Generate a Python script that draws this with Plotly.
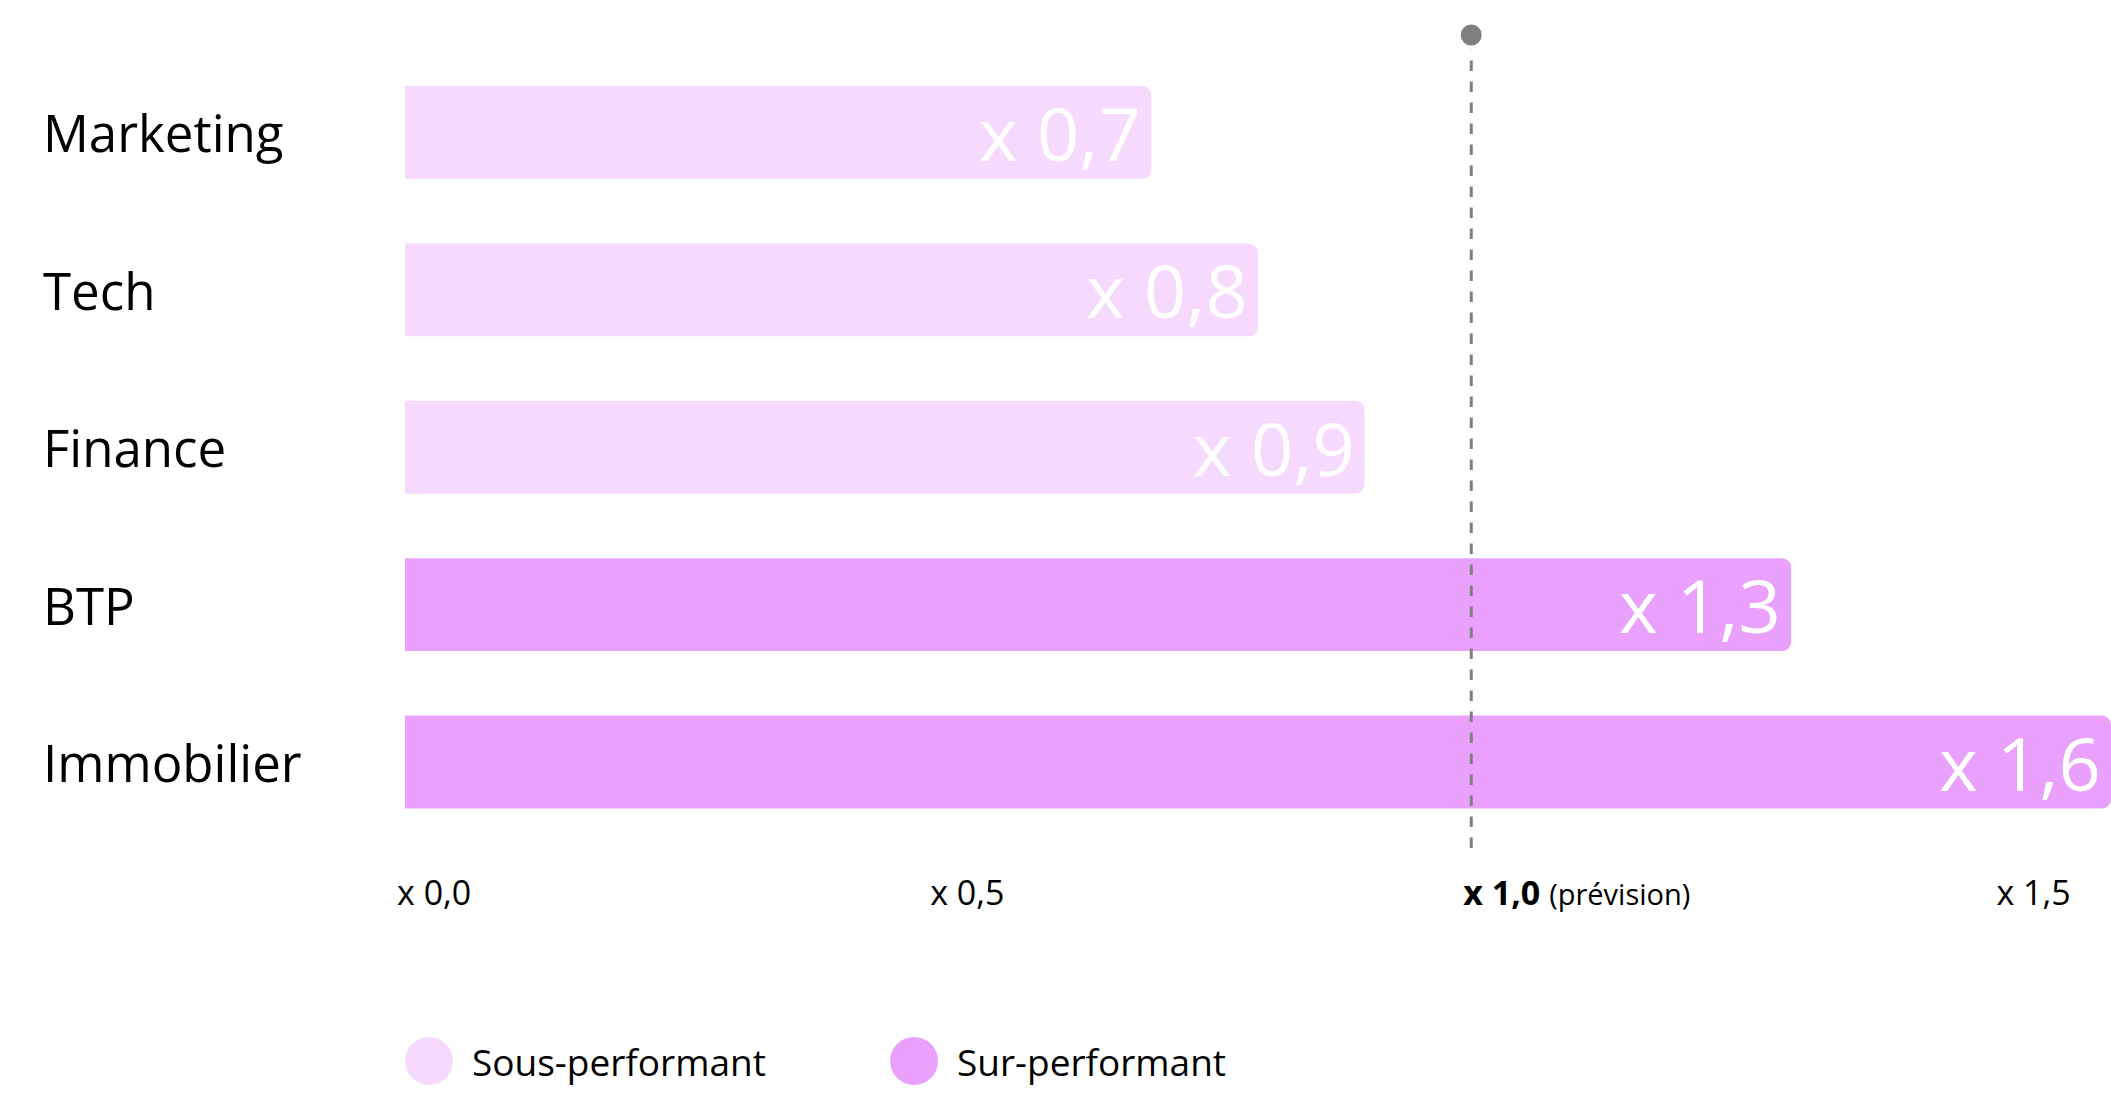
import plotly.graph_objects as go

# ---- data ----
categories = ["Marketing", "Tech", "Finance", "BTP", "Immobilier"]
values = [0.7, 0.8, 0.9, 1.3, 1.6]
groups = ["Sous-performant", "Sous-performant", "Sous-performant", "Sur-performant", "Sur-performant"]
tick_vals = [0.0, 0.5, 1.0, 1.5]
tick_text = ["x 0,0", "x 0,5", "<b>x 1,0</b> <span style='font-size:29px'>(prévision)</span>", "x 1,5"]
forecast = 1.0
legend_names = ["Sous-performant", "Sur-performant"]

colors = {"Sous-performant": "#f5dafd", "Sur-performant": "#eaa1fd"}
FONT = "Open Sans"

fig = go.Figure()
fig.add_trace(go.Bar(
    x=values, y=categories, orientation="h",
    marker=dict(color=[colors[g] for g in groups], line=dict(width=0), cornerradius=9),
    showlegend=False, hoverinfo="skip",
))

annotations = []
# value labels inside bar ends
for c, v in zip(categories, values):
    annotations.append(dict(
        x=v, y=c, xref="x", yref="y", xanchor="right", yanchor="middle",
        xshift=-8, text=f"x {v:.1f}".replace(".", ","), showarrow=False,
        font=dict(family=FONT, size=74, color="white"),
    ))
# category labels on the left
for c in categories:
    annotations.append(dict(
        x=-0.2134, y=c, xref="paper", yref="y", xanchor="left", yanchor="middle",
        text=c, showarrow=False, font=dict(family=FONT, size=51, color="black"),
    ))

shapes = [
    dict(type="line", xref="x", yref="paper", x0=forecast, x1=forecast, y0=0.0, y1=0.982,
         line=dict(color="#7f7f7f", width=3, dash="10.5px,10.5px"), layer="above"),
    dict(type="circle", xref="x", yref="paper", xsizemode="pixel", ysizemode="pixel",
         xanchor=forecast, yanchor=1.0, x0=-10.5, x1=10.5, y0=-10.5, y1=10.5,
         fillcolor="#7f7f7f", line=dict(width=0), layer="above"),
]

# manual legend
legend_x = [0.0141, 0.2984]
legend_y = -0.262
for name, lx in zip(legend_names, legend_x):
    shapes.append(dict(type="circle", xref="paper", yref="paper", xsizemode="pixel", ysizemode="pixel",
                       xanchor=lx, yanchor=legend_y, x0=-24, x1=24, y0=-24, y1=24,
                       fillcolor=colors[name], line=dict(width=0)))
    annotations.append(dict(x=lx, y=legend_y, xref="paper", yref="paper", xanchor="left", yanchor="middle",
                            xshift=41, text=name, showarrow=False,
                            font=dict(family=FONT, size=37, color="black")))

fig.update_layout(
    width=2111, height=1095, autosize=False,
    margin=dict(l=405, r=0, t=35, b=247, pad=0),
    paper_bgcolor="white", plot_bgcolor="white",
    bargap=0.41,
    font=dict(family=FONT, color="black"),
    annotations=annotations, shapes=shapes,
    xaxis=dict(range=[0, 1.6], tickvals=tick_vals, ticktext=tick_text, showgrid=False,
               zeroline=False, showline=False, ticks="", ticklabelposition="outside right",
               ticklabelshift=-8, ticklabelstandoff=22,
               tickfont=dict(family=FONT, size=34, color="black")),
    yaxis=dict(categoryorder="array", categoryarray=categories, range=[4.546, -0.619],
               showticklabels=False, showgrid=False, zeroline=False, showline=False, ticks=""),
)

fig.write_html("out.html")
